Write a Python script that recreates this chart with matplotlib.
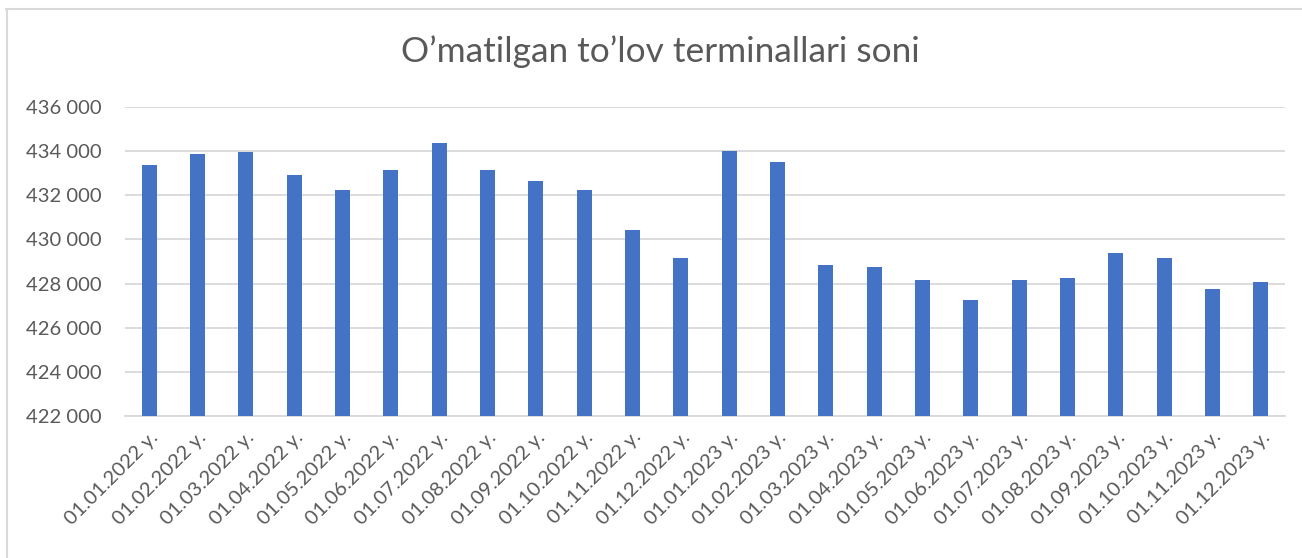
import matplotlib
matplotlib.use("Agg")
import matplotlib.pyplot as plt
from matplotlib.lines import Line2D
from matplotlib.ticker import FuncFormatter
from matplotlib.transforms import ScaledTranslation

dates = ["01.01.2022 y.", "01.02.2022 y.", "01.03.2022 y.", "01.04.2022 y.",
         "01.05.2022 y.", "01.06.2022 y.", "01.07.2022 y.", "01.08.2022 y.",
         "01.09.2022 y.", "01.10.2022 y.", "01.11.2022 y.", "01.12.2022 y.",
         "01.01.2023 y.", "01.02.2023 y.", "01.03.2023 y.", "01.04.2023 y.",
         "01.05.2023 y.", "01.06.2023 y.", "01.07.2023 y.", "01.08.2023 y.",
         "01.09.2023 y.", "01.10.2023 y.", "01.11.2023 y.", "01.12.2023 y."]
terminals = [433380, 433880, 433990, 432930, 432250, 433170, 434390, 433170,
             432660, 432250, 430450, 429170, 434020, 433510, 428830, 428740,
             428140, 427260, 428180, 428270, 429370, 429180, 427740, 428060]
y_ticks = [422000, 424000, 426000, 428000, 430000, 432000, 434000, 436000]
title = "O\u2019matilgan to\u2019lov terminallari soni"

W, H = 1302, 558
fig = plt.figure(figsize=(W / 100, H / 100), dpi=100)
font = ["Lato", "DejaVu Sans"]
txt_color = "#595959"
grid_color = "#D9D9D9"

ax = fig.add_axes([125 / W, 1 - 415.7 / H, (1285 - 125) / W, (415.7 - 107.3) / H])
x = list(range(len(dates)))
base = y_ticks[0]
ax.bar(x, [v - base for v in terminals], bottom=base, width=0.31,
       color="#4472C4", zorder=3)
ax.set_xlim(-0.5, len(dates) - 0.5)
ax.set_ylim(y_ticks[0], y_ticks[-1])
ax.set_yticks(y_ticks)
ax.yaxis.set_major_formatter(FuncFormatter(lambda v, p: f"{int(v):,}".replace(",", " ")))
ax.set_xticks(x)
ax.set_xticklabels(dates, rotation=45, ha="right", rotation_mode="anchor",
                   fontfamily=font, fontsize=14.5, color=txt_color)
shift = ScaledTranslation(9 / 100, -1 / 100, fig.dpi_scale_trans)
for lab in ax.get_xticklabels():
    lab.set_transform(lab.get_transform() + shift)
for lab in ax.get_yticklabels():
    lab.set_fontfamily(font)
    lab.set_fontsize(14.5)
    lab.set_color(txt_color)
ax.tick_params(axis="both", length=0)
ax.tick_params(axis="y", pad=16.5)
ax.tick_params(axis="x", pad=9)
ax.grid(axis="y", color=grid_color, linewidth=1.3, zorder=0)
for s in ["top", "right", "left"]:
    ax.spines[s].set_visible(False)
ax.spines["bottom"].set_color(grid_color)
ax.spines["bottom"].set_linewidth(1.3)

fig.text(660 / W, 1 - 52 / H, title, ha="center", va="center",
         fontfamily=font, fontsize=25.4, color=txt_color)

# chart frame (left and top edges)
fig.add_artist(Line2D([6.5 / W, 6.5 / W], [0, 1 - 8.5 / H], transform=fig.transFigure,
                      color=grid_color, linewidth=1.5))
fig.add_artist(Line2D([6 / W, 1], [1 - 8.5 / H, 1 - 8.5 / H], transform=fig.transFigure,
                      color=grid_color, linewidth=1.5))

fig.savefig("out.png", dpi=100, facecolor="white")
